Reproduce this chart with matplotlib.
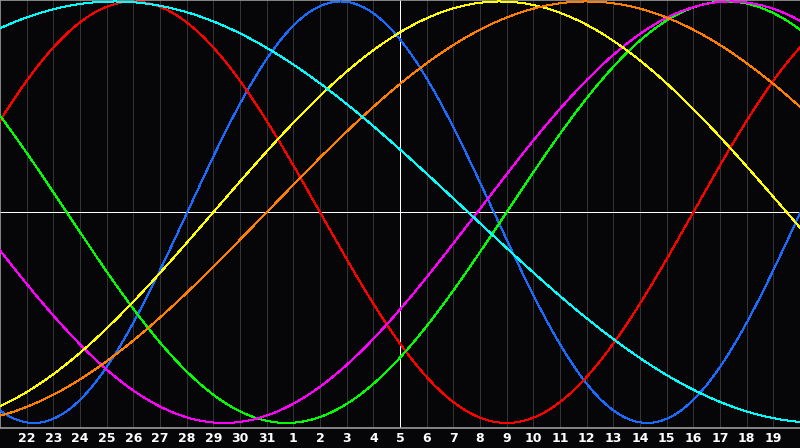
import numpy as np
import matplotlib
matplotlib.use('Agg')
import matplotlib.pyplot as plt

# biorhythm cycles: period in days, day (from left edge) where the curve peaks
CYCLES = ['physical', 'emotional', 'intellectual', 'intuitive',
          'aesthetic', 'awareness', 'spiritual']
PERIODS = [23, 28, 33, 38, 43, 48, 53]
PEAK_DAY = [12.77, 5.0, 27.25, 27.4, 18.75, 22.0, 4.3]
COLORS = ['#1a6cff', '#ff0000', '#00ff00', '#ff00ff',
          '#ffff00', '#ff8000', '#00ffff']

# date labels on the day grid lines (1..29)
DAY_LABELS = ['22', '23', '24', '25', '26', '27', '28', '29', '30', '31',
              '1', '2', '3', '4', '5', '6', '7', '8', '9', '10', '11',
              '12', '13', '14', '15', '16', '17', '18', '19']
N_DAYS = 30
TODAY = 15

BG = '#060609'
PX = 0.72  # one pixel in points at dpi 100

fig = plt.figure(figsize=(8, 4.48), dpi=100, facecolor=BG)
ax = fig.add_axes([0, 20 / 448, 1, 428 / 448])
ax.set_facecolor(BG)

t = np.linspace(0, N_DAYS, 1601)
for period, peak, color in zip(PERIODS, PEAK_DAY, COLORS):
    y = np.cos(2 * np.pi * (t - peak) / period)
    ax.plot(t, y, color=color, linewidth=PX, antialiased=False, zorder=3)

grid_pos = np.arange(1, N_DAYS)
for x in grid_pos:
    if x == TODAY:
        continue
    ax.axvline(x, color='#333336', linewidth=PX, antialiased=False, zorder=1)
ax.axvline(TODAY, color='white', linewidth=PX, antialiased=False, zorder=2)
ax.axhline(0, color='white', linewidth=PX, antialiased=False, zorder=2)

ax.set_xlim(0, N_DAYS)
ax.set_ylim(-1.024, 1.007)
ax.set_yticks([])
ax.set_xticks(grid_pos)
ax.set_xticklabels(DAY_LABELS, color='white', fontsize=9, fontweight='bold')
ax.tick_params(axis='x', length=0, pad=3)

for side in ('top', 'left', 'bottom'):
    ax.spines[side].set_color('#9a9a9a')
    ax.spines[side].set_linewidth(1.2)
ax.spines['right'].set_visible(False)

plt.savefig('out.png', dpi=100, facecolor=BG)
